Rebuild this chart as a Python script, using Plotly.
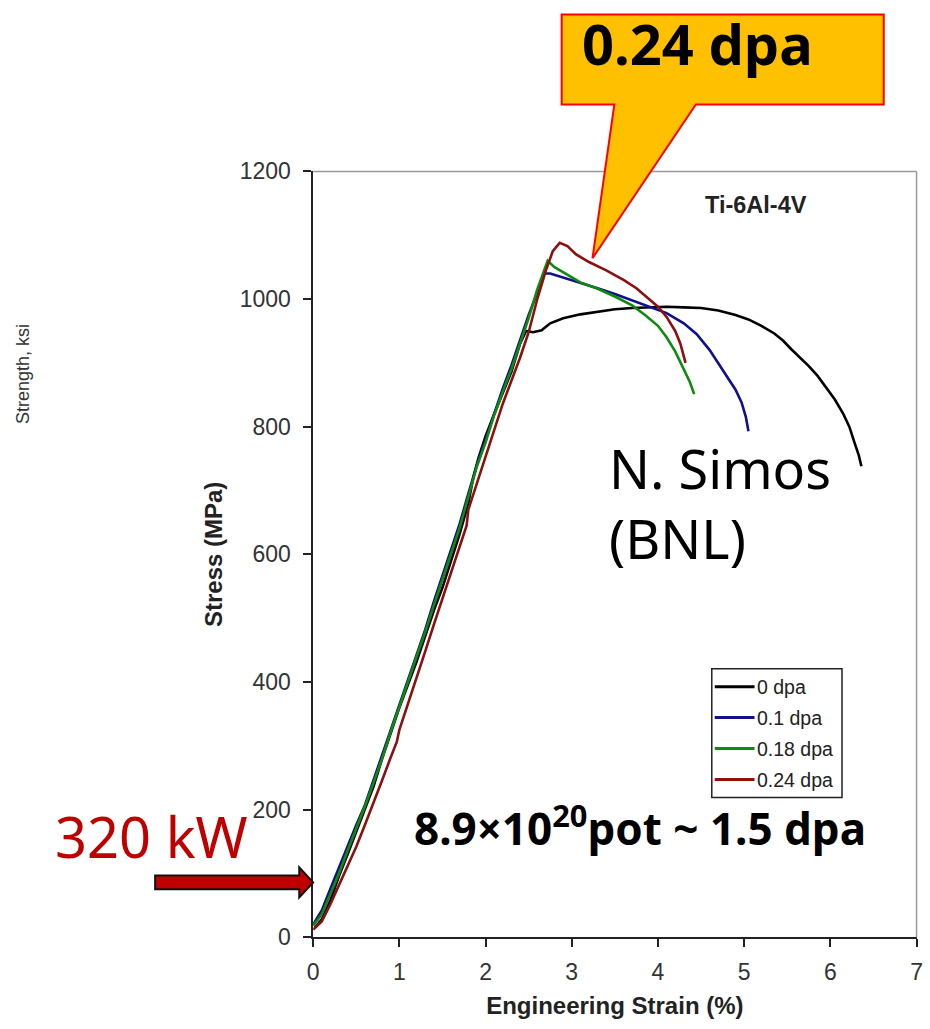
import plotly.graph_objects as go

W, H = 930, 1029

# ---------------- data ----------------
series_names = ["0 dpa", "0.1 dpa", "0.18 dpa", "0.24 dpa"]
series_colors = ["#000000", "#10108c", "#0f8a0f", "#8c1010"]

strain_0 = [0.02, 0.1, 0.2, 0.3, 0.4, 0.5, 0.6, 0.7, 0.8, 0.9, 1.0, 1.1, 1.2, 1.3, 1.4,
            1.5, 1.6, 1.7, 1.8, 1.86, 1.92, 2.0, 2.1, 2.2, 2.3, 2.4, 2.47, 2.55, 2.65,
            2.75, 2.9, 3.1, 3.3, 3.5, 3.7, 3.9, 4.1, 4.3, 4.5, 4.7, 4.9, 5.05, 5.2,
            5.35, 5.45, 5.55, 5.65, 5.75, 5.85, 5.95, 6.05, 6.15, 6.22, 6.28, 6.33, 6.36]
stress_0 = [15, 28, 58, 96, 130, 166, 200, 236, 280, 320, 360, 396, 432, 472, 512,
            548, 592, 632, 680, 722, 752, 785, 820, 852, 886, 930, 950, 948, 951,
            962, 970, 976, 980, 984, 986, 987, 988, 987, 986, 982, 975, 968, 958,
            946, 935, 921, 908, 895, 880, 862, 843, 820, 800, 775, 755, 738]

strain_01 = [0.0, 0.1, 0.2, 0.3, 0.4, 0.5, 0.6, 0.7, 0.8, 0.9, 1.0, 1.1, 1.2, 1.3, 1.4,
             1.5, 1.6, 1.7, 1.8, 1.9, 2.0, 2.1, 2.2, 2.3, 2.4, 2.5, 2.6, 2.68, 2.75,
             2.9, 3.1, 3.3, 3.5, 3.7, 3.9, 4.1, 4.3, 4.45, 4.6, 4.7, 4.8, 4.9, 4.97,
             5.02, 5.05]
stress_01 = [20, 42, 76, 110, 142, 176, 207, 246, 286, 326, 366, 402, 442, 482, 526,
             566, 606, 648, 695, 740, 780, 820, 860, 896, 935, 975, 1010, 1040, 1040,
             1034, 1025, 1017, 1008, 998, 988, 978, 962, 945, 920, 900, 880, 858, 838,
             815, 793]

strain_018 = [0.0, 0.1, 0.2, 0.3, 0.4, 0.5, 0.6, 0.7, 0.8, 0.9, 1.0, 1.1, 1.2, 1.3, 1.4,
              1.5, 1.6, 1.7, 1.8, 1.9, 2.0, 2.1, 2.2, 2.3, 2.4, 2.5, 2.6, 2.68, 2.72,
              2.8, 2.9, 3.1, 3.3, 3.5, 3.7, 3.85, 4.0, 4.1, 4.2, 4.3, 4.37, 4.42]
stress_018 = [18, 36, 68, 100, 136, 170, 205, 242, 280, 322, 360, 400, 440, 478, 520,
              560, 600, 642, 690, 738, 775, 818, 855, 890, 930, 970, 1015, 1045, 1060,
              1050, 1042, 1026, 1016, 1004, 990, 975, 958, 940, 918, 890, 870, 851]

strain_024 = [0.0, 0.1, 0.2, 0.3, 0.4, 0.5, 0.6, 0.7, 0.8, 0.9, 0.97, 1.0, 1.1, 1.2, 1.3,
              1.4, 1.5, 1.6, 1.7, 1.78, 1.8, 1.9, 2.0, 2.1, 2.2, 2.3, 2.4, 2.5, 2.6, 2.7,
              2.78, 2.86, 2.95, 3.05, 3.2, 3.4, 3.6, 3.75, 3.9, 4.0, 4.1, 4.2, 4.26,
              4.3, 4.32]
stress_024 = [12, 25, 52, 82, 112, 142, 176, 210, 246, 282, 306, 325, 365, 405, 448,
              490, 530, 570, 612, 645, 670, 712, 752, 796, 836, 872, 908, 948, 1000, 1045,
              1075, 1088, 1083, 1070, 1058, 1045, 1030, 1017, 1000, 988, 972, 950, 930,
              910, 900]

x_ticks = [0, 1, 2, 3, 4, 5, 6, 7]
y_ticks = [0, 200, 400, 600, 800, 1000, 1200]

all_x = [strain_0, strain_01, strain_018, strain_024]
all_y = [stress_0, stress_01, stress_018, stress_024]

# ---------------- helpers: target pixel -> paper ----------------
# (compensates the slight scaling/offset observed in the photographed page)
SX, OX = 0.993, 3.0
SY, OY = 0.9761, 11.4


def fx(t):
    return ((t - OX) / SX) / W


def fy(t):
    return 1 - ((t - OY) / SY) / H


def path(points):
    return "M " + " L ".join(f"{fx(a):.5f},{fy(b):.5f}" for a, b in points) + " Z"


AX = "Liberation Sans, Arial, sans-serif"
COMIC = "Noto Sans, sans-serif"

fig = go.Figure()
for xs, ys, name, col in zip(all_x, all_y, series_names, series_colors):
    fig.add_trace(go.Scatter(x=xs, y=ys, mode="lines", name=name,
                             line=dict(color=col, width=2.6), showlegend=False))

fig.update_layout(
    width=W, height=H,
    margin=dict(l=0, r=0, t=0, b=0),
    paper_bgcolor="white", plot_bgcolor="white",
    xaxis=dict(domain=[fx(312), fx(919)], range=[0, 7], tickvals=x_ticks,
               ticks="outside", ticklen=8, tickwidth=1.5, tickcolor="#222",
               showline=True, linecolor="#222", linewidth=1.5, mirror=False,
               showgrid=False, zeroline=False, ticklabelstandoff=5,
               ticklabeloverflow="allow",
               tickfont=dict(family=AX, size=23, color="#333"),
               title=dict(text="<b>Engineering Strain (%)</b>", standoff=14,
                          font=dict(family=AX, size=24, color="#222"))),
    yaxis=dict(domain=[fy(937), fy(170)], range=[0, 1200], tickvals=y_ticks,
               ticks="outside", ticklen=8, tickwidth=1.5, tickcolor="#222",
               showline=True, linecolor="#222", linewidth=1.5, mirror=False,
               showgrid=False, zeroline=False, ticklabelstandoff=8,
               tickfont=dict(family=AX, size=23, color="#333"),
               title=dict(text="<b>Stress (MPa)</b>", standoff=10,
                          font=dict(family=AX, size=24, color="#222"))),
)

shapes = []
# top and right frame of plot area
shapes.append(dict(type="line", xref="paper", yref="paper", x0=fx(312), y0=fy(170),
                   x1=fx(919), y1=fy(170), line=dict(color="#999", width=1.5)))
shapes.append(dict(type="line", xref="paper", yref="paper", x0=fx(919), y0=fy(170),
                   x1=fx(919), y1=fy(937), line=dict(color="#999", width=1.5)))

# legend box + sample lines
shapes.append(dict(type="rect", xref="paper", yref="paper", x0=fx(713), y0=fy(668),
                   x1=fx(844), y1=fy(797), line=dict(color="#222", width=1.5),
                   fillcolor="white", layer="above"))
leg_rows = [686, 717, 748, 779]
annotations = []
for row, name, col in zip(leg_rows, series_names, series_colors):
    shapes.append(dict(type="line", xref="paper", yref="paper", x0=fx(716), y0=fy(row),
                       x1=fx(756), y1=fy(row), line=dict(color=col, width=3), layer="above"))
    annotations.append(dict(xref="paper", yref="paper", x=fx(756), y=fy(row),
                            xanchor="left", yanchor="middle", showarrow=False,
                            text=name, font=dict(family=AX, size=19.5, color="#222")))

# callout "0.24 dpa"
shapes.append(dict(type="path", xref="paper", yref="paper",
                   path=path([(562, 13), (886, 13), (886, 103), (697, 103), (593, 257),
                              (615, 103), (562, 103)]),
                   fillcolor="#FFC000", line=dict(color="#FF0000", width=2), layer="above"))

# red arrow
shapes.append(dict(type="path", xref="paper", yref="paper",
                   path=path([(153, 875), (298, 875), (298, 867), (312, 882), (298, 897),
                              (298, 889), (153, 889)]),
                   fillcolor="#C00000", line=dict(color="#111", width=2), layer="above"))

annotations += [
    dict(xref="paper", yref="paper", x=fx(580.5), y=fy(41), xanchor="left", yanchor="middle",
         showarrow=False, text="<b>0.24 dpa</b>", font=dict(family=COMIC, size=56, color="#000")),
    dict(xref="paper", yref="paper", x=fx(50), y=fy(836), xanchor="left", yanchor="middle",
         showarrow=False, text="320 kW", font=dict(family=COMIC, size=56, color="#C00000")),
    dict(xref="paper", yref="paper", x=fx(608), y=fy(502), xanchor="left", yanchor="middle",
         align="left", showarrow=False, text="N. Simos<br>(BNL)",
         font=dict(family=COMIC, size=54, color="#000")),
    dict(xref="paper", yref="paper", x=fx(411), y=fy(826), xanchor="left", yanchor="middle",
         showarrow=False, text="<b>8.9×10<sup>20</sup>pot ~ 1.5 dpa</b>",
         font=dict(family=COMIC, size=44, color="#000")),
    dict(xref="paper", yref="paper", x=fx(757), y=fy(204), xanchor="center", yanchor="middle",
         showarrow=False, text="<b>Ti-6Al-4V</b>", font=dict(family=AX, size=23.5, color="#222")),
    dict(xref="paper", yref="paper", x=fx(20), y=fy(373), xanchor="center", yanchor="middle",
         showarrow=False, text="Strength, ksi", textangle=-90,
         font=dict(family=AX, size=18, color="#333")),
]

fig.update_layout(shapes=shapes, annotations=annotations)
fig.write_html("out.html")
